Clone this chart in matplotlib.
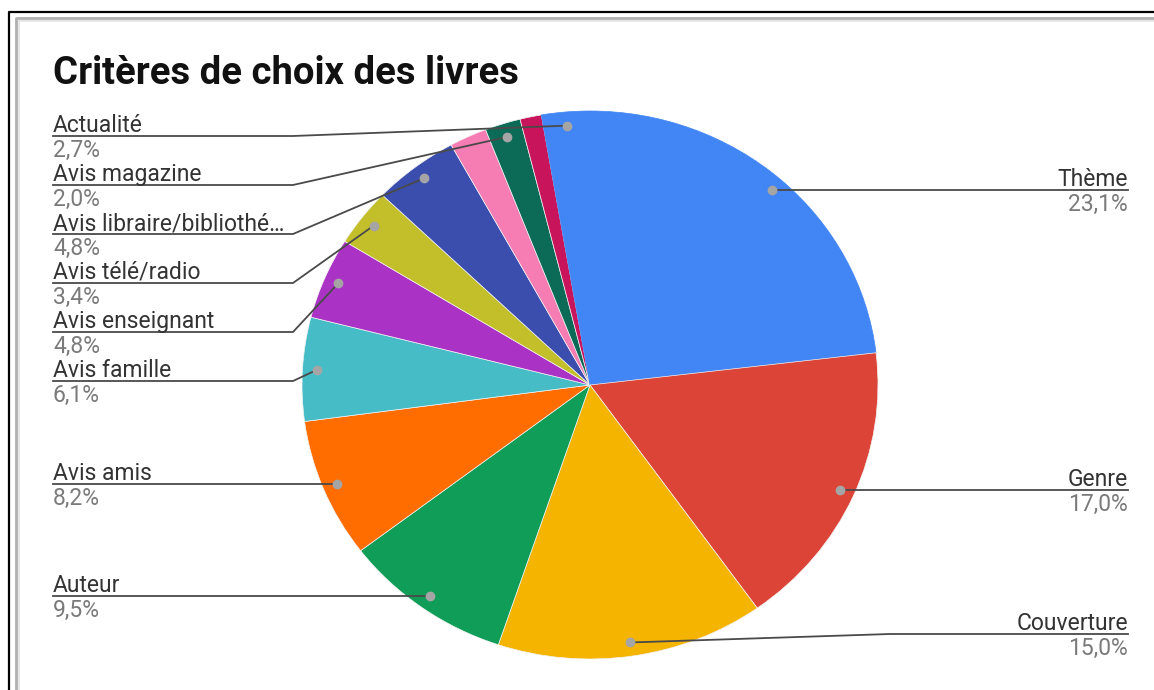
import numpy as np
import matplotlib
matplotlib.use("Agg")
import matplotlib.pyplot as plt
from matplotlib.lines import Line2D

# ---- data ----
title = "Critères de choix des livres"
categories = ["Thème", "Genre", "Couverture", "Auteur", "Avis amis", "Avis famille",
              "Avis enseignant", "Avis télé/radio", "Avis libraire/bibliothé…",
              "", "Avis magazine", "", "Actualité"]
values = [23.1, 17.0, 15.0, 9.5, 8.2, 6.1, 4.8, 3.4, 4.8, 2.1, 2.0, 1.2, 2.7]
colors = ["#4285f4", "#db4437", "#f4b400", "#0f9d58", "#ff6d00", "#46bdc6",
          "#aa33c6", "#c3bf2a", "#3b4ead", "#f57db3", "#0b6b57", "#c8145a", "#4285f4"]

W, H = 1154, 690
fig = plt.figure(figsize=(W / 100, H / 100), dpi=100)
fig.patch.set_facecolor("white")

# pie geometry (pixels)
cx, cy, rx, ry = 590, 385, 288, 274

pax = fig.add_axes([(cx - rx) / W, (H - cy - ry) / H, 2 * rx / W, 2 * ry / H])
wedges, _ = pax.pie(values, colors=colors, startangle=90, counterclock=False,
                    wedgeprops=dict(edgecolor="#f2f2f2", linewidth=0.5))
# no visible seam between the two same-coloured neighbours
wedges[-1].set_edgecolor(colors[-1])
wedges[0].set_edgecolor(colors[0])
pax.set_xlim(-1, 1)
pax.set_ylim(-1, 1)
pax.set_aspect("auto")
pax.axis("off")

bg = fig.add_axes([0, 0, 1, 1], zorder=3)
bg.set_xlim(0, W)
bg.set_ylim(H, 0)
bg.axis("off")
bg.patch.set_alpha(0)

# frame
bg.add_line(Line2D([9, 9, W], [H, 12, 12], color="black", lw=1.6))
bg.add_line(Line2D([16, 16, W], [H, 18, 18], color="#b0b0b0", lw=2.0))
bg.add_line(Line2D([18.5, 18.5, W], [H, 20.5, 20.5], color="#e2e2e2", lw=1.2))

# title
bg.text(53, 84, title, fontsize=27.5, fontweight="bold", family="Roboto",
        color="#111111", va="baseline", ha="left")

# labels
total = sum(values)
cum = 0.0
items = []
for name, v in zip(categories, values):
    mid = (cum + v / 2) / total * 2 * np.pi
    cum += v
    if not name:
        continue
    dx = cx + 0.95 * rx * np.sin(mid)
    dy = cy - 0.95 * ry * np.cos(mid)
    side = "right" if np.sin(mid) >= 0 else "left"
    items.append(dict(name=name, v=v, dx=dx, dy=dy, side=side))

top_min, bot_max, gap = 136, 634, 49
for side in ("left", "right"):
    its = sorted([i for i in items if i["side"] == side], key=lambda i: i["dy"])
    prev = -1e9
    for it in its:
        y = min(max(it["dy"], top_min), bot_max)
        y = max(y, prev + gap)
        it["ly"] = y
        prev = y

line_col = "#4a4a4a"
for it in items:
    ly = it["ly"]
    if it["side"] == "left":
        xs = [53, 293, it["dx"]]
        tx, ha = 53, "left"
    else:
        xs = [1128, 890, it["dx"]]
        tx, ha = 1128, "right"
    bg.add_line(Line2D(xs, [ly, ly, it["dy"]], color=line_col, lw=1.3,
                       solid_joinstyle="round"))
    bg.plot(it["dx"], it["dy"], "o", ms=6, color="#a5a5a5", mec="#a5a5a5")
    bg.text(tx, ly - 4, it["name"], fontsize=16.5, family="Roboto",
            color="#333333", ha=ha, va="baseline")
    bg.text(tx, ly + 21, f"{it['v']:.1f}".replace(".", ",") + "%", fontsize=16.5,
            family="Roboto", color="#7a7a7a", ha=ha, va="baseline")

fig.savefig("out.png", dpi=100)
